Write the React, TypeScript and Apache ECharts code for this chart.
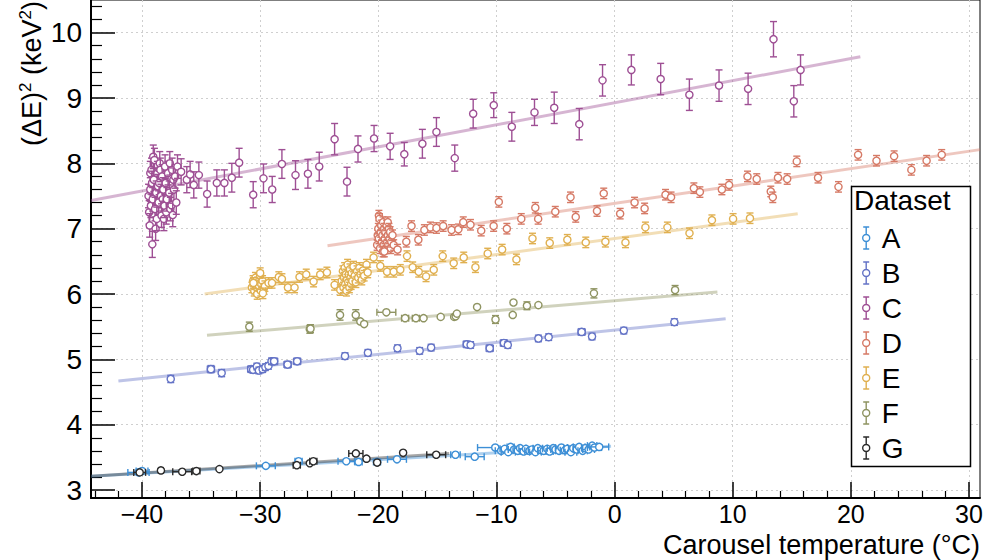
import React, { useEffect, useRef } from 'react';
import * as echarts from 'echarts';

// ---------- axis ranges & ticks ----------
const X_MIN = -44.32;
const X_MAX = 30.93;
const Y_MIN = 2.878;
const Y_MAX = 10.5;
const xMajorTicks = [-40, -30, -20, -10, 0, 10, 20, 30];
const yMajorTicks = [3, 4, 5, 6, 7, 8, 9, 10];

const legendNames = ['A', 'B', 'C', 'D', 'E', 'F', 'G'];
const colors = ['#3d8fd6', '#6473c6', '#9e4f94', '#d67a66', '#e0b050', '#8f9462', '#2a2a2a'];

// ---------- data: [temperature, (dE)^2, xErr, yErr] ----------
const dataA = [
  [-40.3, 3.27, 0.9, 0.02], [-40.0, 3.29, 0.5, 0.02], [-29.52, 3.37, 0.8, 0.02], [-26.75, 3.44, 0.3, 0.02],
  [-22.71, 3.44, 0.7, 0.02], [-21.67, 3.43, 0.3, 0.02], [-20.11, 3.43, 0.3, 0.02], [-18.42, 3.47, 0.8, 0.02],
  [-13.47, 3.54, 0.4, 0.02], [-11.84, 3.51, 0.8, 0.02], [-10.1, 3.65, 1.5, 0.02], [-9.6, 3.6, 0.5, 0.02],
  [-9.3, 3.63, 0.4, 0.02], [-9.0, 3.58, 0.6, 0.02], [-8.8, 3.66, 0.3, 0.02], [-8.5, 3.62, 0.5, 0.02],
  [-8.2, 3.6, 0.4, 0.02], [-8.0, 3.64, 0.5, 0.02], [-7.7, 3.59, 0.3, 0.02], [-7.5, 3.63, 0.6, 0.02],
  [-7.2, 3.6, 0.4, 0.02], [-7.0, 3.62, 0.3, 0.02], [-6.7, 3.58, 0.5, 0.02], [-6.5, 3.64, 0.4, 0.02],
  [-6.2, 3.61, 0.3, 0.02], [-6.0, 3.6, 0.5, 0.02], [-5.7, 3.63, 0.4, 0.02], [-5.5, 3.59, 0.3, 0.02],
  [-5.2, 3.64, 0.5, 0.02], [-5.0, 3.62, 0.4, 0.02], [-4.7, 3.6, 0.3, 0.02], [-4.5, 3.65, 0.5, 0.02],
  [-4.2, 3.61, 0.4, 0.02], [-4.0, 3.63, 0.3, 0.02], [-3.7, 3.58, 0.5, 0.02], [-3.5, 3.64, 0.4, 0.02],
  [-3.2, 3.62, 0.3, 0.02], [-3.0, 3.66, 0.5, 0.02], [-2.7, 3.6, 0.4, 0.02], [-2.5, 3.64, 0.3, 0.02],
  [-2.2, 3.62, 0.5, 0.02], [-1.9, 3.68, 0.4, 0.02], [-1.7, 3.65, 0.6, 0.02], [-1.3, 3.66, 0.8, 0.02],
];
const dataB = [
  [-37.57, 4.7, 0, 0.055], [-34.17, 4.85, 0.3, 0.055], [-33.26, 4.79, 0, 0.055], [-30.76, 4.85, 0.3, 0.05],
  [-30.6, 4.84, 0, 0.05], [-30.28, 4.89, 0, 0.05], [-30.11, 4.83, 0, 0.05], [-29.79, 4.85, 0, 0.05],
  [-29.56, 4.88, 0, 0.05], [-29.3, 4.9, 0, 0.05], [-29.04, 4.97, 0, 0.05], [-28.82, 4.97, 0.3, 0.05],
  [-27.68, 4.92, 0.3, 0.05], [-26.87, 4.97, 0.3, 0.05], [-22.82, 5.05, 0, 0.05], [-20.88, 5.1, 0, 0.05],
  [-18.38, 5.17, 0, 0.05], [-16.5, 5.13, 0, 0.05], [-15.53, 5.18, 0, 0.05], [-12.51, 5.23, 0.3, 0.05],
  [-12.19, 5.22, 0, 0.05], [-10.57, 5.17, 0.3, 0.05], [-9.37, 5.25, 0.3, 0.05], [-9.04, 5.22, 0, 0.05],
  [-6.45, 5.32, 0, 0.05], [-5.58, 5.34, 0, 0.05], [-2.79, 5.42, 0.3, 0.05], [-1.91, 5.35, 0, 0.05],
  [0.78, 5.44, 0, 0.05], [5.06, 5.57, 0, 0.05],
];
const dataC = [
  [-39.45, 7.5, 0, 0.18], [-39.4, 7.25, 0, 0.18], [-39.35, 7.05, 0, 0.18], [-39.3, 7.6, 0, 0.18],
  [-39.3, 7.85, 0, 0.18], [-39.25, 7.35, 0, 0.18], [-39.2, 7.9, 0, 0.18], [-39.15, 7.7, 0, 0.18],
  [-39.1, 7.45, 0, 0.18], [-39.05, 8.1, 0, 0.18], [-39.0, 7.75, 0, 0.18], [-38.95, 8.05, 0, 0.18],
  [-38.9, 7.3, 0, 0.18], [-38.85, 7.0, 0, 0.18], [-38.8, 7.55, 0, 0.18], [-38.75, 7.15, 0, 0.18],
  [-38.7, 7.85, 0, 0.18], [-38.65, 7.65, 0, 0.18], [-38.6, 7.4, 0, 0.18], [-38.55, 7.7, 0, 0.18],
  [-38.5, 8.0, 0, 0.18], [-38.45, 7.9, 0, 0.18], [-38.4, 7.5, 0, 0.18], [-38.35, 7.2, 0, 0.18],
  [-38.3, 7.8, 0, 0.18], [-38.25, 7.45, 0, 0.18], [-38.2, 7.6, 0, 0.18], [-38.15, 7.15, 0, 0.18],
  [-38.1, 7.35, 0, 0.18], [-38.05, 7.95, 0, 0.18], [-38.0, 7.7, 0, 0.18], [-37.95, 7.25, 0, 0.18],
  [-37.9, 7.45, 0, 0.18], [-37.8, 7.85, 0, 0.18], [-37.7, 7.55, 0, 0.18], [-37.65, 8.0, 0, 0.18],
  [-37.6, 7.3, 0, 0.18], [-37.5, 7.36, 0, 0.18], [-37.45, 7.9, 0, 0.18], [-37.4, 7.21, 0, 0.18],
  [-37.35, 7.75, 0, 0.18], [-37.3, 7.6, 0, 0.18], [-37.2, 7.8, 0, 0.18], [-37.1, 7.4, 0, 0.18],
  [-37.0, 7.95, 0, 0.18],
  [-39.13, 6.76, 0, 0.2], [-36.69, 7.87, 0, 0.2], [-36.21, 7.75, 0, 0.2], [-35.93, 7.83, 0, 0.2],
  [-35.62, 7.67, 0, 0.2], [-35.19, 7.82, 0, 0.2], [-34.49, 7.53, 0, 0.2], [-33.67, 7.7, 0, 0.2],
  [-33.03, 7.7, 0, 0.2], [-32.4, 7.78, 0, 0.22], [-31.78, 8.01, 0, 0.22], [-30.59, 7.52, 0, 0.2],
  [-29.72, 7.77, 0, 0.22], [-28.98, 7.6, 0, 0.2], [-28.16, 7.99, 0, 0.22], [-27.01, 7.82, 0, 0.22],
  [-25.96, 7.84, 0, 0.22], [-25.0, 7.95, 0, 0.22], [-23.7, 8.37, 0, 0.24], [-22.65, 7.72, 0, 0.22],
  [-21.72, 8.22, 0, 0.2], [-20.36, 8.38, 0, 0.2], [-19.0, 8.26, 0, 0.2], [-17.8, 8.14, 0, 0.18],
  [-16.27, 8.3, 0, 0.22], [-15.08, 8.48, 0, 0.22], [-13.53, 8.08, 0, 0.2], [-11.97, 8.76, 0, 0.22],
  [-10.23, 8.89, 0, 0.19], [-8.7, 8.56, 0, 0.22], [-6.78, 8.78, 0, 0.2], [-5.11, 8.85, 0, 0.24],
  [-2.99, 8.6, 0, 0.24], [-1.02, 9.27, 0, 0.24], [1.42, 9.43, 0, 0.23], [3.9, 9.29, 0, 0.24],
  [6.33, 9.05, 0, 0.24], [8.84, 9.19, 0, 0.24], [11.3, 9.14, 0, 0.24], [13.45, 9.9, 0, 0.27],
  [15.17, 8.95, 0, 0.24], [15.74, 9.43, 0, 0.23],
];
const dataD = [
  [-20.1, 6.75, 0, 0.08], [-20.05, 6.9, 0, 0.08], [-20.0, 7.0, 0, 0.08], [-19.95, 6.85, 0, 0.08],
  [-19.95, 7.2, 0, 0.08], [-19.9, 7.15, 0, 0.08], [-19.85, 6.7, 0, 0.08], [-19.8, 6.95, 0, 0.08],
  [-19.75, 7.05, 0, 0.08], [-19.7, 6.8, 0, 0.08], [-19.65, 6.9, 0, 0.08], [-19.6, 7.1, 0, 0.08],
  [-19.6, 6.65, 0, 0.08], [-19.55, 6.75, 0, 0.08], [-19.5, 7.0, 0, 0.08], [-19.45, 6.85, 0, 0.08],
  [-19.4, 6.95, 0, 0.08], [-19.35, 6.7, 0, 0.08], [-19.3, 7.05, 0, 0.08], [-19.25, 6.8, 0, 0.08],
  [-19.2, 6.9, 0, 0.08], [-19.2, 7.1, 0, 0.08], [-19.15, 6.75, 0, 0.08], [-19.1, 7.0, 0, 0.08],
  [-19.05, 6.85, 0, 0.08], [-19.0, 6.95, 0, 0.08], [-18.95, 6.7, 0, 0.08], [-18.9, 6.8, 0, 0.08],
  [-18.8, 6.9, 0, 0.08], [-18.7, 6.75, 0, 0.08],
  [-19.49, 6.65, 0, 0.08], [-18.37, 6.68, 0, 0.08], [-17.63, 6.8, 0, 0.08], [-17.19, 7.04, 0, 0.08],
  [-16.61, 6.83, 0, 0.08], [-16.1, 6.98, 0, 0.08], [-15.59, 7.02, 0, 0.08], [-15.08, 7.01, 0, 0.08],
  [-14.51, 7.04, 0, 0.08], [-13.8, 6.98, 0, 0.08], [-13.22, 6.99, 0, 0.08], [-12.81, 7.1, 0, 0.08],
  [-12.2, 7.06, 0, 0.08], [-11.29, 6.97, 0, 0.08], [-10.24, 7.04, 0, 0.08], [-9.8, 7.41, 0, 0.08],
  [-9.12, 7.0, 0, 0.08], [-7.9, 7.15, 0, 0.08], [-6.71, 7.32, 0, 0.08], [-6.47, 7.15, 0, 0.08],
  [-5.02, 7.26, 0, 0.08], [-3.73, 7.48, 0, 0.08], [-3.29, 7.18, 0, 0.08], [-1.49, 7.27, 0, 0.08],
  [-0.92, 7.54, 0, 0.08], [0.47, 7.23, 0, 0.08], [1.69, 7.4, 0, 0.08], [2.54, 7.31, 0, 0.08],
  [4.31, 7.52, 0, 0.08], [4.78, 7.48, 0, 0.08], [6.71, 7.62, 0, 0.08], [7.22, 7.56, 0, 0.08],
  [9.08, 7.6, 0, 0.08], [9.69, 7.67, 0, 0.08], [11.25, 7.8, 0, 0.08], [12.03, 7.76, 0, 0.08],
  [13.22, 7.57, 0, 0.08], [13.39, 7.48, 0, 0.08], [13.83, 7.78, 0, 0.08], [14.61, 7.76, 0, 0.08],
  [15.42, 8.03, 0, 0.08], [17.22, 7.78, 0, 0.08], [18.95, 7.64, 0, 0.08], [20.61, 8.13, 0, 0.08],
  [22.17, 8.04, 0, 0.08], [23.66, 8.11, 0, 0.08], [25.12, 7.9, 0, 0.08], [26.41, 8.04, 0, 0.08],
  [27.69, 8.13, 0, 0.08],
];
const dataE = [
  [-30.7, 6.1, 0, 0.08], [-30.6, 6.2, 0, 0.08], [-30.5, 6.05, 0, 0.08], [-30.45, 6.15, 0, 0.08],
  [-30.4, 6.25, 0, 0.08], [-30.3, 6.1, 0, 0.08], [-30.25, 6.0, 0, 0.08], [-30.2, 6.18, 0, 0.08],
  [-30.1, 6.12, 0, 0.08], [-30.0, 6.28, 0, 0.08], [-29.95, 6.05, 0, 0.08], [-29.9, 6.15, 0, 0.08],
  [-29.8, 6.2, 0, 0.08], [-29.7, 6.08, 0, 0.08], [-29.6, 6.12, 0, 0.08],
  [-30.57, 6.17, 0, 0.08], [-30.0, 6.32, 0, 0.08], [-29.77, 6.01, 0, 0.08], [-29.29, 6.17, 0, 0.08],
  [-29.0, 6.17, 0, 0.08], [-28.42, 6.26, 0, 0.08], [-28.16, 6.23, 0, 0.08], [-27.65, 6.1, 0, 0.08],
  [-27.09, 6.1, 0, 0.08], [-26.67, 6.26, 0, 0.08], [-26.1, 6.3, 0, 0.08], [-25.48, 6.19, 0, 0.08],
  [-24.92, 6.3, 0, 0.08], [-24.35, 6.33, 0, 0.08], [-23.7, 6.14, 0, 0.08], [-23.22, 6.06, 0, 0.08],
  [-23.1, 6.2, 0, 0.08], [-23.0, 6.35, 0, 0.08], [-22.95, 6.1, 0, 0.08], [-22.9, 6.25, 0, 0.08],
  [-22.85, 6.4, 0, 0.08], [-22.8, 6.15, 0, 0.08], [-22.75, 6.3, 0, 0.08], [-22.7, 6.05, 0, 0.08],
  [-22.65, 6.22, 0, 0.08], [-22.6, 6.45, 0, 0.08], [-22.55, 6.18, 0, 0.08], [-22.5, 6.3, 0, 0.08],
  [-22.45, 6.1, 0, 0.08], [-22.4, 6.38, 0, 0.08], [-22.35, 6.25, 0, 0.08], [-22.3, 6.15, 0, 0.08],
  [-22.25, 6.32, 0, 0.08], [-22.2, 6.2, 0, 0.08], [-22.1, 6.42, 0, 0.08], [-22.0, 6.28, 0, 0.08],
  [-21.9, 6.18, 0, 0.08], [-21.8, 6.35, 0, 0.08], [-21.7, 6.25, 0, 0.08], [-21.6, 6.4, 0, 0.08],
  [-21.5, 6.3, 0, 0.08], [-21.4, 6.22, 0, 0.08], [-21.3, 6.36, 0, 0.08], [-21.2, 6.28, 0, 0.08],
  [-21.0, 6.45, 0, 0.08], [-20.9, 6.33, 0, 0.08],
  [-20.4, 6.56, 0, 0.08], [-19.83, 6.43, 0, 0.08], [-19.26, 6.34, 0, 0.08], [-18.7, 6.34, 0, 0.08],
  [-18.14, 6.37, 0, 0.08], [-17.57, 6.58, 0, 0.08], [-17.09, 6.41, 0, 0.08], [-16.58, 6.34, 0, 0.08],
  [-15.96, 6.27, 0, 0.08], [-15.31, 6.37, 0, 0.08], [-14.55, 6.58, 0, 0.08], [-13.62, 6.47, 0, 0.08],
  [-12.77, 6.56, 0, 0.08], [-11.78, 6.41, 0, 0.08], [-10.74, 6.62, 0, 0.08], [-9.52, 6.68, 0, 0.08],
  [-8.31, 6.53, 0, 0.08], [-6.95, 6.85, 0, 0.08], [-5.49, 6.78, 0, 0.08], [-4.0, 6.83, 0, 0.08],
  [-2.44, 6.79, 0, 0.08], [-0.78, 6.8, 0, 0.08], [0.92, 6.79, 0, 0.08], [2.61, 7.02, 0, 0.08],
  [4.47, 7.02, 0, 0.08], [6.34, 6.93, 0, 0.08], [8.24, 7.13, 0, 0.08], [10.03, 7.15, 0, 0.08],
  [11.46, 7.16, 0, 0.08],
];
const dataF = [
  [-30.92, 5.5, 0, 0.07], [-25.8, 5.46, 0, 0.06], [-25.74, 5.47, 0, 0.06], [-23.24, 5.68, 0, 0.08],
  [-21.91, 5.68, 0, 0.08], [-21.52, 5.58, 0, 0], [-21.2, 5.54, 0, 0], [-19.32, 5.72, 0.8, 0],
  [-17.73, 5.63, 0.3, 0], [-16.82, 5.63, 0.3, 0], [-16.17, 5.63, 0, 0], [-14.72, 5.65, 0, 0],
  [-13.58, 5.65, 0, 0], [-13.45, 5.66, 0, 0], [-13.35, 5.7, 0, 0], [-11.64, 5.8, 0, 0],
  [-10.08, 5.61, 0, 0.06], [-8.62, 5.68, 0, 0], [-8.56, 5.87, 0, 0], [-7.42, 5.82, 0, 0.06],
  [-6.45, 5.83, 0, 0], [-1.75, 6.01, 0, 0.07], [5.12, 6.06, 0, 0.07],
];
const dataG = [
  [-40.2, 3.27, 0.5, 0], [-38.4, 3.3, 0.2, 0], [-36.6, 3.28, 0.8, 0], [-35.4, 3.29, 0.3, 0],
  [-33.45, 3.32, 0, 0], [-26.9, 3.38, 0.3, 0], [-25.8, 3.41, 0, 0], [-25.5, 3.44, 0.3, 0],
  [-21.9, 3.56, 0.6, 0], [-21.0, 3.48, 0, 0], [-20.1, 3.42, 0, 0], [-17.9, 3.57, 0, 0],
  [-15.1, 3.54, 0.8, 0],
];

// ---------- linear fits (endpoints) ----------
const fitA = [[-44.32, 3.21], [-0.3, 3.67]];
const fitB = [[-42.0, 4.67], [9.4, 5.62]];
const fitC = [[-44.32, 7.43], [20.8, 9.63]];
const fitD = [[-24.3, 6.74], [30.93, 8.21]];
const fitE = [[-34.7, 6.0], [15.5, 7.23]];
const fitF = [[-34.5, 5.37], [8.7, 6.03]];
const fitG = [[-44.32, 3.21], [-14.0, 3.56]];

const datasets = [dataA, dataB, dataC, dataD, dataE, dataF, dataG];
const fits = [fitA, fitB, fitC, fitD, fitE, fitF, fitG];

const FONT = '"Liberation Sans", Arial, Helvetica, sans-serif';

function minorTicks(lo: number, hi: number, step: number, major: number) {
  const out: number[] = [];
  const n = Math.round((hi - lo) / step);
  for (let i = 0; i <= n; i++) {
    const v = Math.round((lo + i * step) * 1000) / 1000;
    const r = v / major;
    if (Math.abs(r - Math.round(r)) > 1e-6) out.push(v);
  }
  return out;
}
const xMinorTicks = minorTicks(-44, 30, 2, 10);
const yMinorTicks = minorTicks(3, 10.4, 0.2, 1);

const fmtMinus = (v: number) => (v < 0 ? '\u2212' + Math.abs(v) : String(v));

function makeRender(color: string) {
  return (params: any, api: any) => {
    const x = api.value(0);
    const y = api.value(1);
    const ex = api.value(2);
    const ey = api.value(3);
    const c = api.coord([x, y]);
    const r = 3.6;
    const cap = 3.5;
    const st = { stroke: color, lineWidth: 1.4, fill: 'none' };
    const ch: any[] = [];
    if (ey > 0) {
      const t = api.coord([x, y + ey])[1];
      const b = api.coord([x, y - ey])[1];
      if (c[1] - t > r) ch.push({ type: 'line', shape: { x1: c[0], y1: t, x2: c[0], y2: c[1] - r }, style: st });
      if (b - c[1] > r) ch.push({ type: 'line', shape: { x1: c[0], y1: c[1] + r, x2: c[0], y2: b }, style: st });
      ch.push({ type: 'line', shape: { x1: c[0] - cap, y1: t, x2: c[0] + cap, y2: t }, style: st });
      ch.push({ type: 'line', shape: { x1: c[0] - cap, y1: b, x2: c[0] + cap, y2: b }, style: st });
    }
    if (ex > 0) {
      const l = api.coord([x - ex, y])[0];
      const rr = api.coord([x + ex, y])[0];
      if (c[0] - l > r) ch.push({ type: 'line', shape: { x1: l, y1: c[1], x2: c[0] - r, y2: c[1] }, style: st });
      if (rr - c[0] > r) ch.push({ type: 'line', shape: { x1: c[0] + r, y1: c[1], x2: rr, y2: c[1] }, style: st });
      ch.push({ type: 'line', shape: { x1: l, y1: c[1] - cap, x2: l, y2: c[1] + cap }, style: st });
      ch.push({ type: 'line', shape: { x1: rr, y1: c[1] - cap, x2: rr, y2: c[1] + cap }, style: st });
    }
    ch.push({ type: 'circle', shape: { cx: c[0], cy: c[1], r }, style: { stroke: color, lineWidth: 1.4, fill: '#fff' } });
    return { type: 'group', children: ch };
  };
}

const LEGEND_ICON =
  'path://M1,0L7,0M4,0L4,7.5M4,14.5L4,22M1,22L7,22M7.5,11A3.5,3.5,0,1,1,0.5,11A3.5,3.5,0,1,1,7.5,11Z';

export default function App() {
  const ref = useRef<HTMLDivElement>(null);
  useEffect(() => {
    if (!ref.current) return;
    const chart = echarts.init(ref.current, undefined, { renderer: 'svg' });
    const axisCommon = { type: 'value', gridIndex: 0 };
    const series: any[] = [];
    fits.forEach((f, i) => {
      series.push({
        name: legendNames[i] + ' fit',
        type: 'line',
        data: f,
        xAxisIndex: 0,
        yAxisIndex: 0,
        showSymbol: false,
        symbol: 'none',
        silent: true,
        z: 1,
        lineStyle: { color: colors[i], width: 3, opacity: 0.42 },
      });
    });
    datasets.forEach((d, i) => {
      series.push({
        name: legendNames[i],
        type: 'custom',
        data: d,
        xAxisIndex: 0,
        yAxisIndex: 0,
        encode: { x: 0, y: 1 },
        clip: false,
        silent: true,
        z: 2,
        itemStyle: { color: colors[i] },
        renderItem: makeRender(colors[i]),
      });
    });

    chart.setOption({
      animation: false,
      backgroundColor: '#fff',
      grid: {
        left: 91,
        top: 0,
        right: 4,
        bottom: 62,
        show: true,
        borderColor: '#000',
        borderWidth: 1,
        backgroundColor: 'transparent',
        containLabel: false,
        outerBoundsMode: 'none',
      },
      xAxis: [
        {
          ...axisCommon,
          position: 'bottom',
          min: X_MIN,
          max: X_MAX,
          splitNumber: 8,
          axisLine: { onZero: false, lineStyle: { color: '#000', width: 2 } },
          axisTick: { inside: true, length: 16, customValues: xMajorTicks, lineStyle: { color: '#000', width: 1.5 } },
          axisLabel: {
            customValues: xMajorTicks,
            formatter: fmtMinus,
            fontSize: 25,
            lineHeight: 20,
            color: '#000',
            fontFamily: FONT,
            margin: 6,
          },
          splitLine: { show: true, lineStyle: { color: '#cfcfcf', width: 1, type: [2, 3] } },
        },
        {
          ...axisCommon,
          position: 'bottom',
          min: X_MIN,
          max: X_MAX,
          axisLine: { show: false, onZero: false },
          axisTick: { inside: true, length: 7, customValues: xMinorTicks, lineStyle: { color: '#000', width: 1.2 } },
          axisLabel: { show: false },
          splitLine: { show: false },
        },
      ],
      yAxis: [
        {
          ...axisCommon,
          position: 'left',
          min: Y_MIN,
          max: Y_MAX,
          splitNumber: 8,
          axisLine: { onZero: false, lineStyle: { color: '#000', width: 2 } },
          axisTick: { inside: true, length: 24, customValues: yMajorTicks, lineStyle: { color: '#000', width: 1.5 } },
          axisLabel: {
            customValues: yMajorTicks,
            fontSize: 28,
            color: '#000',
            fontFamily: FONT,
            margin: 9,
          },
          splitLine: { show: true, lineStyle: { color: '#cfcfcf', width: 1, type: [2, 3] } },
        },
        {
          ...axisCommon,
          position: 'left',
          min: Y_MIN,
          max: Y_MAX,
          axisLine: { show: false, onZero: false },
          axisTick: { inside: true, length: 11, customValues: yMinorTicks, lineStyle: { color: '#000', width: 1.2 } },
          axisLabel: { show: false },
          splitLine: { show: false },
        },
      ],
      legend: {
        orient: 'vertical',
        left: 862,
        top: 224,
        padding: 0,
        itemGap: 7,
        itemWidth: 7,
        itemHeight: 22,
        selectedMode: false,
        z: 10,
        textStyle: { fontSize: 28, color: '#000', fontFamily: FONT, lineHeight: 26, padding: [0, 0, 0, 7] },
        data: legendNames.map((n, i) => ({
          name: n,
          icon: LEGEND_ICON,
          itemStyle: { color: '#fff', borderColor: colors[i], borderWidth: 1.4 },
        })),
      },
      graphic: [
        {
          type: 'rect',
          z: 5,
          shape: { x: 851.5, y: 186.5, width: 119, height: 280 },
          style: { fill: '#fff', stroke: '#000', lineWidth: 1.5 },
        },
        {
          type: 'text',
          z: 6,
          x: 854,
          y: 200,
          style: { text: 'Dataset', font: '28px ' + FONT, fill: '#000', align: 'left', verticalAlign: 'middle' },
        },
        {
          type: 'text',
          z: 6,
          x: 32,
          y: 1,
          rotation: Math.PI / 2,
          style: {
            text: '(ΔE){s|2} (keV{s|2})',
            font: '27px ' + FONT,
            fill: '#000',
            align: 'right',
            verticalAlign: 'middle',
            rich: { s: { fontSize: 17, fontFamily: FONT, fill: '#000', verticalAlign: 'top', lineHeight: 30 } },
          },
        },
        {
          type: 'text',
          z: 6,
          x: 980,
          y: 545,
          style: {
            text: 'Carousel temperature (°C)',
            font: '27px ' + FONT,
            lineHeight: 20,
            fill: '#000',
            align: 'right',
            verticalAlign: 'middle',
          },
        },
      ],
      series,
    });
    return () => chart.dispose();
  }, []);
  return <div ref={ref} style={{ position: 'absolute', left: 0, top: 0, width: 984, height: 560 }} />;
}
